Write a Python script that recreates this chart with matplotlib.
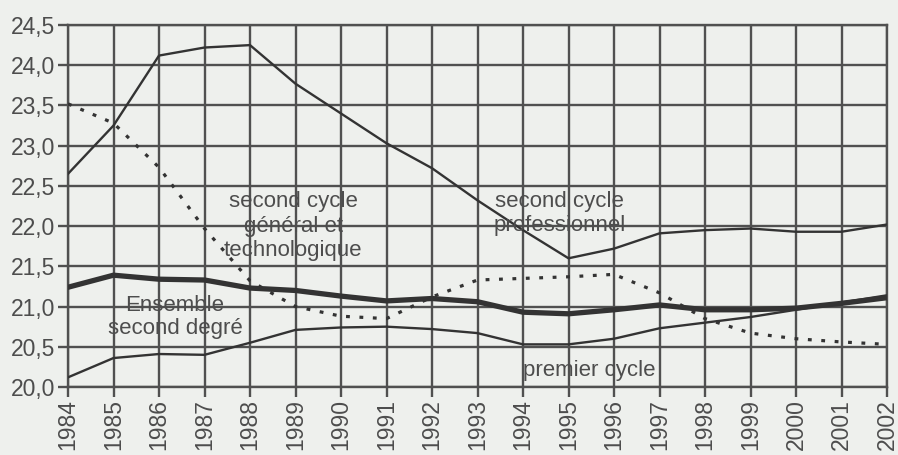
import matplotlib.pyplot as plt

# Years and series
years = list(range(1984, 2003))
gen_techno = [22.65, 23.25, 24.12, 24.22, 24.25, 23.77, 23.40, 23.03, 22.72, 22.32,
              21.95, 21.60, 21.72, 21.91, 21.95, 21.97, 21.93, 21.93, 22.02]
professionnel = [23.52, 23.28, 22.73, 21.97, 21.32, 21.00, 20.88, 20.85, 21.12, 21.33,
                 21.35, 21.37, 21.40, 21.17, 20.85, 20.67, 20.60, 20.56, 20.53]
ensemble = [21.24, 21.39, 21.34, 21.33, 21.23, 21.20, 21.13, 21.07, 21.10, 21.06,
            20.93, 20.91, 20.96, 21.02, 20.96, 20.96, 20.98, 21.04, 21.11]
premier = [20.12, 20.36, 20.41, 20.40, 20.55, 20.71, 20.74, 20.75, 20.72, 20.67,
           20.53, 20.53, 20.60, 20.73, 20.80, 20.87, 20.96, 21.05, 21.14]
yticks = [20.0, 20.5, 21.0, 21.5, 22.0, 22.5, 23.0, 23.5, 24.0, 24.5]

bg = '#eef0ed'
grid_col = '#505050'
line_col = '#333333'
text_col = '#4d4d4d'

plt.rcParams['font.family'] = ['Liberation Sans', 'DejaVu Sans']

fig = plt.figure(figsize=(8.98, 4.55), dpi=100, facecolor=bg)
ax = fig.add_axes([68 / 898, 1 - 387 / 455, (887 - 68) / 898, (387 - 25) / 455])
ax.set_facecolor(bg)

ax.plot(years, gen_techno, color=line_col, lw=1.7, zorder=3)
ax.plot(years, professionnel, color=line_col, lw=2.3, linestyle=(0, (1.2, 3.0)), zorder=3)
ax.plot(years, ensemble, color=line_col, lw=3.8, zorder=4)
ax.plot(years, premier, color=line_col, lw=1.7, zorder=3)

ax.set_xlim(1984, 2002)
ax.set_ylim(20, 24.5)
ax.set_xticks(years)
ax.set_xticklabels([str(y) for y in years], rotation=90)
ax.set_yticks(yticks)
ax.set_yticklabels([('%.1f' % v).replace('.', ',') for v in yticks])

ax.grid(True, color=grid_col, lw=1.7, zorder=1)
for s in ax.spines.values():
    s.set_color(grid_col)
    s.set_linewidth(1.7)
ax.tick_params(axis='both', colors=grid_col, width=1.7, labelcolor=text_col, labelsize=16.5)
ax.tick_params(axis='y', length=7, pad=2)
ax.tick_params(axis='x', length=7, pad=2)

fs = 16
ax.text(1988.95, 22.0, 'second cycle\ngénéral et\ntechnologique', color=text_col,
        fontsize=fs, ha='center', va='center', linespacing=1.2, zorder=5)
ax.text(1994.8, 22.16, 'second cycle\nprofessionnel', color=text_col,
        fontsize=fs, ha='center', va='center', linespacing=1.2, zorder=5)
ax.text(1986.35, 20.87, 'Ensemble\nsecond degré', color=text_col,
        fontsize=fs, ha='center', va='center', linespacing=1.15, zorder=5)
ax.text(1995.45, 20.21, 'premier cycle', color=text_col,
        fontsize=fs, ha='center', va='center', zorder=5)

fig.savefig('out.png', dpi=100, facecolor=bg)
